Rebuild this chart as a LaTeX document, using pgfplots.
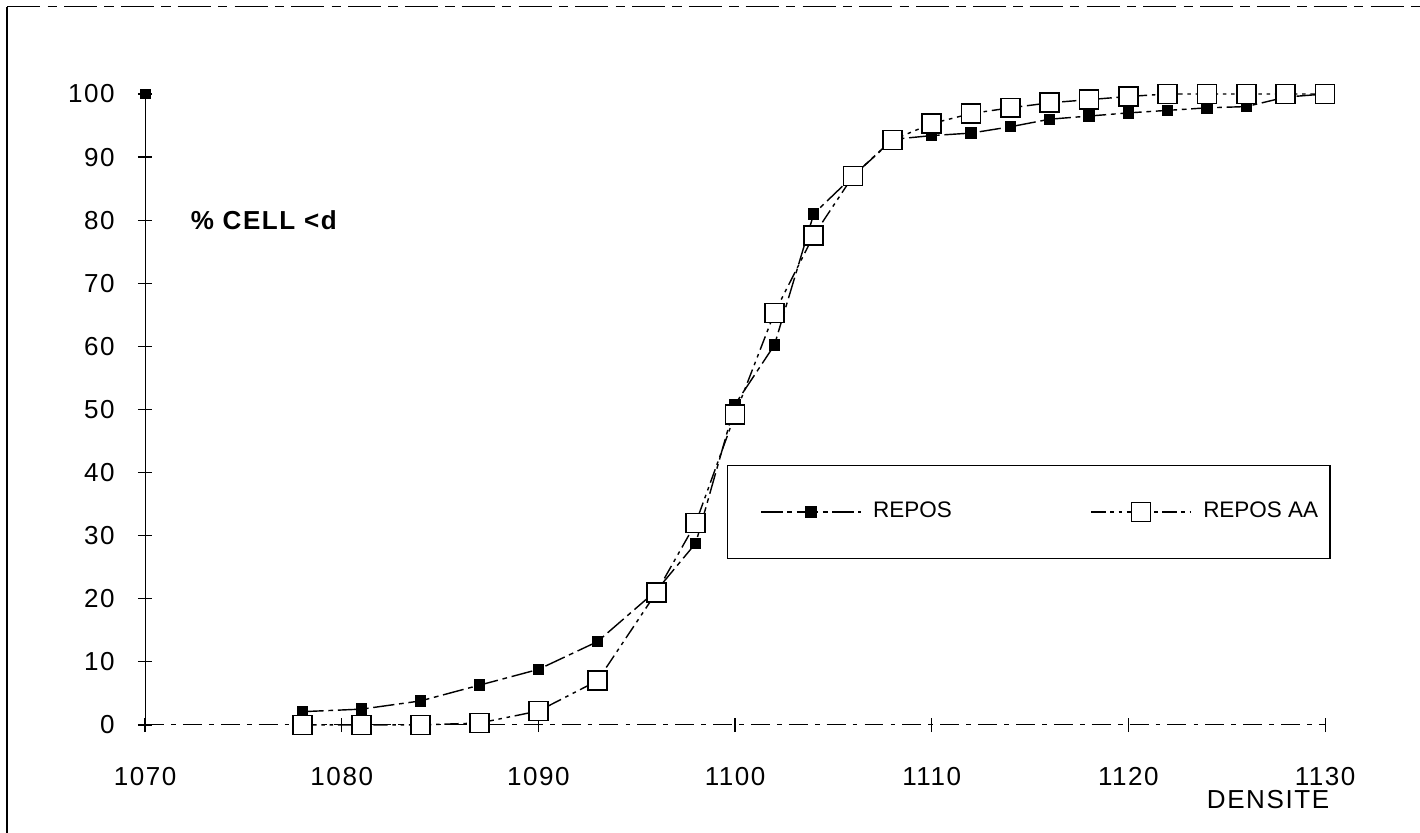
\documentclass[border=0pt]{standalone}
\usepackage{pgfplots}
\pgfplotsset{compat=1.18}
\usepackage{fontspec}
\setmainfont{Liberation Sans}[LetterSpace=6]
\newfontfamily\legfont{Liberation Sans}

\begin{document}
\fontsize{11}{13}\selectfont
\begin{tikzpicture}
  % page frame of the scanned figure
  \useasboundingbox (-61.3pt,-45.6pt) rectangle (538.7pt,306.3pt);
  \draw[line width=0.9pt] (-58.2pt,-45.6pt) -- (-58.2pt,303.5pt);
  \draw[line width=0.5pt, dash pattern=on 14pt off 3pt on 4pt off 3pt] (-58.2pt,303.5pt) -- (538.7pt,303.5pt);

  \begin{axis}[
    at={(0pt,0pt)}, anchor=south west,
    scale only axis,
    width=498.6pt, height=266.6pt,
    xmin=1070, xmax=1130,
    ymin=0, ymax=100,
    xtick={1070,1080,...,1130},
    ytick={0,10,...,100},
    axis lines*=left,
    x axis line style={dash pattern=on 8pt off 3pt on 2pt off 3pt},
    tick align=center,
    major tick length=6pt,
    tick style={black, line width=0.5pt},
    /pgf/number format/assume math mode=true,
    /pgf/number format/set thousands separator={},
    xticklabel style={yshift=-11pt},
    yticklabel style={xshift=-6pt},
    clip=false,
    legend columns=2,
    legend style={
      at={(0.493,0.412)}, anchor=north west,
      draw=black, line width=0.5pt,
      font=\legfont\fontsize{9.5}{12}\selectfont,
      inner xsep=3pt, inner ysep=13.5pt,
      /tikz/every odd column/.append style={column sep=3pt},
      /tikz/every even column/.append style={column sep=45.6pt},
    },
    legend image code/.code={
      \path (-11pt,0pt);
      \draw[mark repeat=2,mark phase=2,#1] plot coordinates {(0pt,0pt) (21pt,0pt) (42pt,0pt)};
    },
  ]

  \addplot[black, line width=0.6pt,
    dash pattern=on 9pt off 2pt on 2pt off 2pt,
    mark=square*, mark size=2.1pt, mark options={solid}]
  coordinates {
    (1078,2.1) (1081,2.5) (1084,3.8) (1087,6.3) (1090,8.8) (1093,13.2)
    (1096,21.3) (1098,28.8) (1100,50.8) (1102,60.2) (1104,81) (1106,87)
    (1108,92.8) (1110,93.4) (1112,93.8) (1114,94.8) (1116,96) (1118,96.5)
    (1120,97) (1122,97.4) (1124,97.8) (1126,98) (1128,99.5) (1130,100)
  };
  \addlegendentry{REPOS}

  \addplot[black, line width=0.6pt,
    dash pattern=on 6pt off 2pt on 1.5pt off 2pt on 1.5pt off 2pt,
    mark=square*, mark size=4pt, mark options={solid, fill=white, line width=0.7pt}]
  coordinates {
    (1078,0) (1081,0) (1084,0) (1087,0.3) (1090,2.2) (1093,7)
    (1096,21) (1098,32) (1100,49.2) (1102,65.3) (1104,77.6) (1106,87)
    (1108,92.7) (1110,95.3) (1112,96.9) (1114,97.8) (1116,98.6) (1118,99.1)
    (1120,99.6) (1122,100) (1124,100) (1126,100) (1128,100) (1130,100)
  };
  \addlegendentry{REPOS AA}

  % stray point at the top of the y axis
  \addplot[forget plot, only marks, black, mark=square*, mark size=2.1pt]
  coordinates {(1070,100)};

  \node[anchor=west, inner sep=0pt, font=\bfseries] at (axis cs:1072.3,80) {\% CELL \textless d};
  \node[anchor=center] at (axis cs:1127.1,-11.8) {DENSITE};
  \end{axis}
\end{tikzpicture}
\end{document}
